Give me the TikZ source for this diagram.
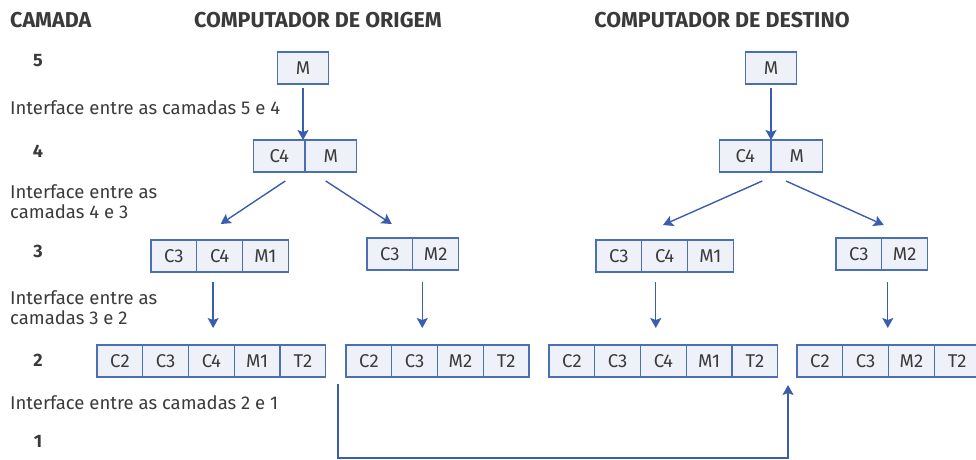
\documentclass[tikz,border=0pt]{standalone}
\usepackage{fontspec}
\setmainfont{Fira Sans}
\usetikzlibrary{arrows.meta,positioning}
\definecolor{lineblue}{HTML}{3A5DAE}
\definecolor{boxborder}{HTML}{4A6FB5}
\definecolor{boxfill}{HTML}{EEF1F8}
\definecolor{txt}{HTML}{3A3A3A}
\tikzset{
  cellbase/.style={draw=boxborder, fill=boxfill, line width=1.3pt, inner sep=0pt, outer sep=0pt,
    minimum height=32pt, text=txt, font=\fontsize{18.5}{20}\selectfont},
  cellw/.style={cellbase, minimum width=51.5pt},
  celln/.style={cellbase, minimum width=45.75pt},
  arr/.style={draw=lineblue, line width=1.4pt, -{Stealth[length=10pt,width=11pt,inset=2pt]}},
  lbl/.style={text=txt, font=\fontsize{18.5}{20}\selectfont, anchor=west, align=left, inner sep=0pt},
  num/.style={text=txt, font=\fontsize{18}{20}\selectfont\bfseries, inner sep=0pt},
  head/.style={text=txt, font=\fontsize{21.5}{24}\selectfont\bfseries, inner sep=0pt},
}
\begin{document}
\begin{tikzpicture}[x=1pt,y=-1pt]
\useasboundingbox (0,0) rectangle (976,459);
% headings
\node[head, anchor=west] (hcam) at (10,20) {CAMADA};
\node[head] (horig) at (318,20) {COMPUTADOR DE ORIGEM};
\node[head] (hdest) at (722,20) {COMPUTADOR DE DESTINO};
% layer numbers
\node[num] (n5) at (38,61) {5};
\node[num] (n4) at (38,151) {4};
\node[num] (n3) at (38,251) {3};
\node[num] (n2) at (38,360) {2};
\node[num] (n1) at (38,441) {1};
% interface labels
\node[lbl] (i54) at (10,108) {Interface entre as camadas 5 e 4};
\node[lbl] (i43) at (10,202) {Interface entre as\\camadas 4 e 3};
\node[lbl] (i32) at (10,308) {Interface entre as\\camadas 3 e 2};
\node[lbl] (i21) at (10,403) {Interface entre as camadas 2 e 1};
% ---------- origin ----------
\node[cellw] (o5m) at (303,68) {M};
\node[cellw] (o4c) at (279.25,156) {C4};
\node[cellw, anchor=west] (o4m) at (o4c.east) {M};
\node[celln] (o3ac3) at (173.9,256) {C3};
\node[celln, anchor=west] (o3ac4) at (o3ac3.east) {C4};
\node[celln, anchor=west] (o3am1) at (o3ac4.east) {M1};
\node[celln] (o3bc3) at (389.9,254) {C3};
\node[celln, anchor=west] (o3bm2) at (o3bc3.east) {M2};
\node[celln] (o2ac2) at (119.9,361) {C2};
\node[celln, anchor=west] (o2ac3) at (o2ac2.east) {C3};
\node[celln, anchor=west] (o2ac4) at (o2ac3.east) {C4};
\node[celln, anchor=west] (o2am1) at (o2ac4.east) {M1};
\node[celln, anchor=west] (o2at2) at (o2am1.east) {T2};
\node[celln] (o2bc2) at (368.9,361) {C2};
\node[celln, anchor=west] (o2bc3) at (o2bc2.east) {C3};
\node[celln, anchor=west] (o2bm2) at (o2bc3.east) {M2};
\node[celln, anchor=west] (o2bt2) at (o2bm2.east) {T2};
% ---------- destination ----------
\node[cellw] (d5m) at (771,68) {M};
\node[cellw] (d4c) at (745.25,156) {C4};
\node[cellw, anchor=west] (d4m) at (d4c.east) {M};
\node[celln] (d3ac3) at (618.9,256) {C3};
\node[celln, anchor=west] (d3ac4) at (d3ac3.east) {C4};
\node[celln, anchor=west] (d3am1) at (d3ac4.east) {M1};
\node[celln] (d3bc3) at (858.9,254) {C3};
\node[celln, anchor=west] (d3bm2) at (d3bc3.east) {M2};
\node[celln] (d2ac2) at (571.9,361) {C2};
\node[celln, anchor=west] (d2ac3) at (d2ac2.east) {C3};
\node[celln, anchor=west] (d2ac4) at (d2ac3.east) {C4};
\node[celln, anchor=west] (d2am1) at (d2ac4.east) {M1};
\node[celln, anchor=west] (d2at2) at (d2am1.east) {T2};
\node[celln] (d2bc2) at (819.9,361) {C2};
\node[celln, anchor=west] (d2bc3) at (d2bc2.east) {C3};
\node[celln, anchor=west] (d2bm2) at (d2bc3.east) {M2};
\node[celln, anchor=west] (d2bt2) at (d2bm2.east) {T2};
% ---------- arrows origin ----------
\coordinate (a1) at ([yshift=-4pt]o5m.south);
\draw[arr] (a1) -- (a1 |- o4c.north);
\draw[arr] ([xshift=6pt,yshift=-9pt]o4c.south) -- ([xshift=1pt,yshift=16pt]o3ac4.north);
\draw[arr] ([xshift=-5pt,yshift=-9pt]o4m.south) -- ([xshift=-21pt,yshift=14pt]o3bc3.north east);
\coordinate (a4) at ([xshift=-6.5pt,yshift=-10pt]o3ac4.south);
\draw[arr] (a4) -- ([yshift=17pt]a4 |- o2ac3.north);
\coordinate (a5) at ([xshift=9.5pt,yshift=-12pt]o3bc3.south east);
\draw[arr] (a5) -- ([yshift=17pt]a5 |- o2bc3.north);
% ---------- arrows destination ----------
\coordinate (b1) at ([yshift=-4pt]d5m.south);
\draw[arr] (b1) -- (b1 |- d4c.north);
\draw[arr] ([xshift=17pt,yshift=-9pt]d4c.south) -- ([xshift=-24.5pt,yshift=15pt]d3ac4.north east);
\draw[arr] ([xshift=-10.75pt,yshift=-9pt]d4m.south) -- ([xshift=2pt,yshift=13pt]d3bc3.north east);
\coordinate (b4) at ([xshift=14pt,yshift=-10pt]d3ac4.south west);
\draw[arr] (b4) -- ([yshift=17pt]b4 |- d2ac3.north);
\coordinate (b5) at ([xshift=6pt,yshift=-12pt]d3bc3.south east);
\draw[arr] (b5) -- ([yshift=17pt]b5 |- d2bc3.north);
% ---------- transmission ----------
\coordinate (tstart) at ([xshift=-8pt,yshift=-7pt]o2bc2.south west);
\coordinate (tend) at ([xshift=-9pt,yshift=-8pt]d2bc2.south west);
\coordinate (tbot) at (0,458);
\draw[arr] (tstart) -- (tstart |- tbot) -- (tend |- tbot) -- (tend);
\end{tikzpicture}
\end{document}
